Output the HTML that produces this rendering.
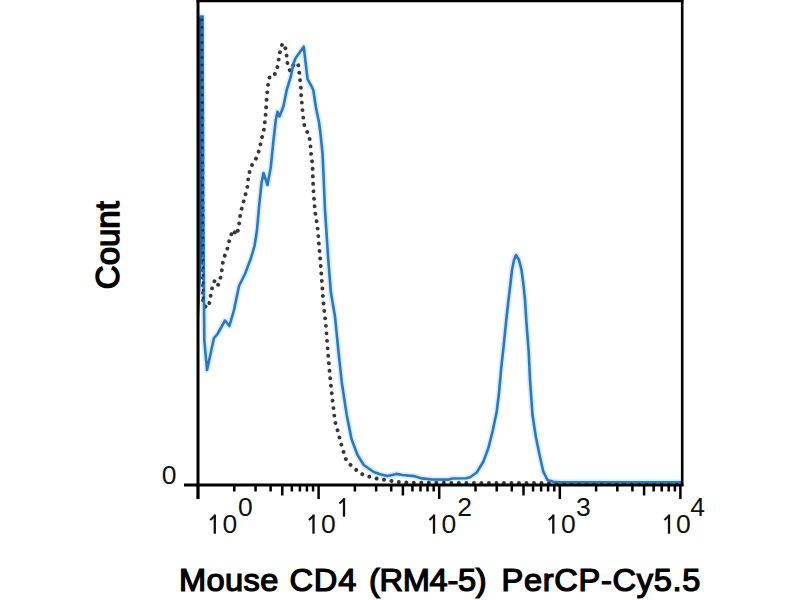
<!DOCTYPE html>
<html><head><meta charset="utf-8">
<style>
html,body{margin:0;padding:0;background:#fff;}
body{width:800px;height:600px;overflow:hidden;position:relative;font-family:"Liberation Sans",sans-serif;color:#000;}
.t{position:absolute;white-space:nowrap;line-height:1;}
.ti{top:564px;font-size:32.6px;-webkit-text-stroke:1.3px #000;transform-origin:0 27.4px;transform:scaleY(0.955);}
</style></head><body>
<svg width="800" height="600" style="position:absolute;left:0;top:0">
<path fill="none" stroke="#d6f1fb" stroke-width="6" stroke-linejoin="round" d="M199.5 16.5 L202.6 16.5 L203.2 200 L204.3 340 L207 370 L214 338 L217.5 334 L225 320.5 L229.4 326 L234 310 L239 286 L245 274 L251 258 L254.5 246 L257 230 L259 207 L261.5 183 L263.5 173 L267.5 185 L270.8 167 L273.3 142 L275.8 120 L277.5 111.7 L279.5 116.5 L283.5 106 L286.7 90 L290.8 76.7 L293.3 64 L295.5 58.3 L303.75 46.7 L307.5 79 L311.7 86.7 L313.3 90 L315.8 106.7 L319.2 123.3 L320.8 136.7 L322.5 153.3 L323.3 170 L325 210 L328.3 260 L330.8 291.7 L335 316.7 L338.3 350 L341.7 381.7 L346.7 415 L351.5 439 L357.5 455 L363.75 465 L373.75 472 L380 474.25 L387.5 476.1 L396.5 473.9 L402.5 475 L413.75 476.1 L422 478.4 L432 479.5 L448.75 479.6 L452.5 478.5 L466.25 478.3 L470 477.2 L476.7 472.5 L483.3 461.7 L488.3 448.3 L492.5 431.7 L496.7 411.7 L499 393 L501.25 367.5 L503.75 345 L506.25 320 L508.5 300 L510.3 285 L512 270 L514 260 L516 255 L519 260 L521.5 270 L523.5 285 L525 300 L526.25 320 L528.75 352.5 L530 380 L532.5 415 L535.8 436.7 L539.2 453.3 L543.3 471.7 L547.5 480 L553.3 481.7 L560 482.2 L682 482.2"/>
<path fill="none" stroke="#363838" stroke-width="3.9" stroke-linecap="round" stroke-dasharray="0.01 7.5" d="M202 30 L203 305 L207.75 307.75 L210 301 L211 293 L212.5 286 L215 280 L218 285 L220 280 L221.5 273 L222.3 266 L223.5 258.5 L226.6 251.6 L228.4 244.2 L230.3 237 L233 230 L236.7 235 L238.5 228.6 L239.4 221.3 L240.4 214 L242.2 206.6 L244 200 L245.9 192.8 L247.7 185.5 L248.3 177.5 L250 170 L252.5 164 L256.7 157.5 L259.2 150 L260.8 142.5 L262.5 135 L264.2 128.3 L265 120.8 L265.8 112.5 L266.7 97 L268 85 L270 75 L275 74 L277.5 66.7 L280 51.7 L282.5 43.3 L285.8 49 L286.7 56.7 L287.5 64 L290 71 L294 64 L297.5 63 L298.5 66 L299.4 73.3 L300.2 80.8 L300.9 88.3 L301.2 95.8 L301.9 103.3 L302.6 110.8 L303.4 118.3 L304.4 125.8 L306.7 130.8 L309.2 135.8 L310.3 143.3 L310.8 151.7 L311.7 158.3 L312.5 165.8 L313.3 189 L315 211.7 L317.5 226.7 L320 256.7 L321.7 279 L323.3 301.7 L325.8 324 L327.5 346.7 L330 376.7 L332.5 400 L335 421.7 L337.5 430 L341.25 444.4 L345.6 458.75 L350 464.4 L355.6 469.4 L361.25 473.75 L367.5 476.25 L374.4 478.1 L381.25 479.4 L388.75 480.3 L395 481.8 L410 482.8 L682 483"/>
<path fill="#2c5f9e" stroke="none" d="M199 17 L202 17 L202.3 250 L199 320 Z"/>
<path fill="none" stroke="#3075c0" stroke-width="2.6" stroke-linejoin="round" d="M199.5 16.5 L202.6 16.5 L203.2 200 L204.3 340 L207 370 L214 338 L217.5 334 L225 320.5 L229.4 326 L234 310 L239 286 L245 274 L251 258 L254.5 246 L257 230 L259 207 L261.5 183 L263.5 173 L267.5 185 L270.8 167 L273.3 142 L275.8 120 L277.5 111.7 L279.5 116.5 L283.5 106 L286.7 90 L290.8 76.7 L293.3 64 L295.5 58.3 L303.75 46.7 L307.5 79 L311.7 86.7 L313.3 90 L315.8 106.7 L319.2 123.3 L320.8 136.7 L322.5 153.3 L323.3 170 L325 210 L328.3 260 L330.8 291.7 L335 316.7 L338.3 350 L341.7 381.7 L346.7 415 L351.5 439 L357.5 455 L363.75 465 L373.75 472 L380 474.25 L387.5 476.1 L396.5 473.9 L402.5 475 L413.75 476.1 L422 478.4 L432 479.5 L448.75 479.6 L452.5 478.5 L466.25 478.3 L470 477.2 L476.7 472.5 L483.3 461.7 L488.3 448.3 L492.5 431.7 L496.7 411.7 L499 393 L501.25 367.5 L503.75 345 L506.25 320 L508.5 300 L510.3 285 L512 270 L514 260 L516 255 L519 260 L521.5 270 L523.5 285 L525 300 L526.25 320 L528.75 352.5 L530 380 L532.5 415 L535.8 436.7 L539.2 453.3 L543.3 471.7 L547.5 480 L553.3 481.7 L560 482.2 L682 482.2"/>
<path fill="none" stroke="#14284a" stroke-width="3" stroke-linecap="round" stroke-dasharray="0.01 7.5" opacity="0.85" d="M201.8 20 L203.2 305"/>
<g stroke="#000" fill="none">
<line x1="198" y1="0" x2="198" y2="499" stroke-width="3"/>
<line x1="682.2" y1="0" x2="682.2" y2="486" stroke-width="2.6"/>
<line x1="196.5" y1="0.9" x2="683.5" y2="0.9" stroke-width="2.7"/>
<line x1="184" y1="485" x2="683.5" y2="485" stroke-width="3"/>
</g>
<g stroke="#000" stroke-width="2.5">
<line x1="198.00" y1="485" x2="198.00" y2="499"/>
<line x1="234.30" y1="485" x2="234.30" y2="491.5"/>
<line x1="255.54" y1="485" x2="255.54" y2="491.5"/>
<line x1="270.61" y1="485" x2="270.61" y2="491.5"/>
<line x1="282.30" y1="485" x2="282.30" y2="495.5"/>
<line x1="291.85" y1="485" x2="291.85" y2="491.5"/>
<line x1="299.92" y1="485" x2="299.92" y2="491.5"/>
<line x1="306.91" y1="485" x2="306.91" y2="491.5"/>
<line x1="313.08" y1="485" x2="313.08" y2="491.5"/>
<line x1="318.60" y1="485" x2="318.60" y2="499"/>
<line x1="354.90" y1="485" x2="354.90" y2="491.5"/>
<line x1="376.14" y1="485" x2="376.14" y2="491.5"/>
<line x1="391.21" y1="485" x2="391.21" y2="491.5"/>
<line x1="402.90" y1="485" x2="402.90" y2="495.5"/>
<line x1="412.45" y1="485" x2="412.45" y2="491.5"/>
<line x1="420.52" y1="485" x2="420.52" y2="491.5"/>
<line x1="427.51" y1="485" x2="427.51" y2="491.5"/>
<line x1="433.68" y1="485" x2="433.68" y2="491.5"/>
<line x1="439.20" y1="485" x2="439.20" y2="499"/>
<line x1="475.50" y1="485" x2="475.50" y2="491.5"/>
<line x1="496.74" y1="485" x2="496.74" y2="491.5"/>
<line x1="511.81" y1="485" x2="511.81" y2="491.5"/>
<line x1="523.50" y1="485" x2="523.50" y2="495.5"/>
<line x1="533.05" y1="485" x2="533.05" y2="491.5"/>
<line x1="541.12" y1="485" x2="541.12" y2="491.5"/>
<line x1="548.11" y1="485" x2="548.11" y2="491.5"/>
<line x1="554.28" y1="485" x2="554.28" y2="491.5"/>
<line x1="559.80" y1="485" x2="559.80" y2="499"/>
<line x1="596.10" y1="485" x2="596.10" y2="491.5"/>
<line x1="617.34" y1="485" x2="617.34" y2="491.5"/>
<line x1="632.41" y1="485" x2="632.41" y2="491.5"/>
<line x1="644.10" y1="485" x2="644.10" y2="495.5"/>
<line x1="653.65" y1="485" x2="653.65" y2="491.5"/>
<line x1="661.72" y1="485" x2="661.72" y2="491.5"/>
<line x1="668.71" y1="485" x2="668.71" y2="491.5"/>
<line x1="674.88" y1="485" x2="674.88" y2="491.5"/>
<line x1="680.40" y1="485" x2="680.40" y2="499"/>
</g>
<g stroke="#111" fill="none" stroke-linecap="butt">
<path d="M214.80 514.60 L214.80 533.70" stroke-width="2.3"/><path d="M215.40 515.20 L210.20 520.00" stroke-width="2.1"/>
<path d="M313.50 514.60 L313.50 533.70" stroke-width="2.3"/><path d="M314.10 515.20 L308.90 520.00" stroke-width="2.1"/>
<path d="M344.00 498.20 L344.00 516.60" stroke-width="2.3"/><path d="M344.60 498.80 L339.40 503.60" stroke-width="2.1"/>
<path d="M434.00 514.60 L434.00 533.70" stroke-width="2.3"/><path d="M434.60 515.20 L429.40 520.00" stroke-width="2.1"/>
<path d="M553.30 514.60 L553.30 533.70" stroke-width="2.3"/><path d="M553.90 515.20 L548.70 520.00" stroke-width="2.1"/>
<path d="M669.00 514.60 L669.00 533.70" stroke-width="2.3"/><path d="M669.60 515.20 L664.40 520.00" stroke-width="2.1"/>
</g>
<g fill="#111" font-family="Liberation Sans" font-size="26.5">
<text x="222.40" y="533.4">0</text>
<text x="237.90" y="516.3">0</text>
<text x="320.90" y="533.4">0</text>
<text x="441.40" y="533.4">0</text>
<text x="457.20" y="516.3">2</text>
<text x="560.90" y="533.4">0</text>
<text x="576.00" y="516.3">3</text>
<text x="675.90" y="533.4">0</text>
<text x="690.20" y="516.3">4</text>
<text x="161.80" y="484.3">0</text>
</g>
</svg>
<div class="t" style="left:0;top:0;font-size:33px;-webkit-text-stroke:1.4px #000;transform-origin:0 0;transform:translate(90.6px,289.2px) rotate(-90deg);">Count</div>
<div class="t ti" style="left:179px;letter-spacing:0.4px;">Mouse</div>
<div class="t ti" style="left:289.5px;letter-spacing:0.8px;">CD4</div>
<div class="t ti" style="left:369px;letter-spacing:-0.3px;">(RM4-5)</div>
<div class="t ti" style="left:501.5px;letter-spacing:0.7px;">PerCP-Cy5.5</div>
</body></html>
